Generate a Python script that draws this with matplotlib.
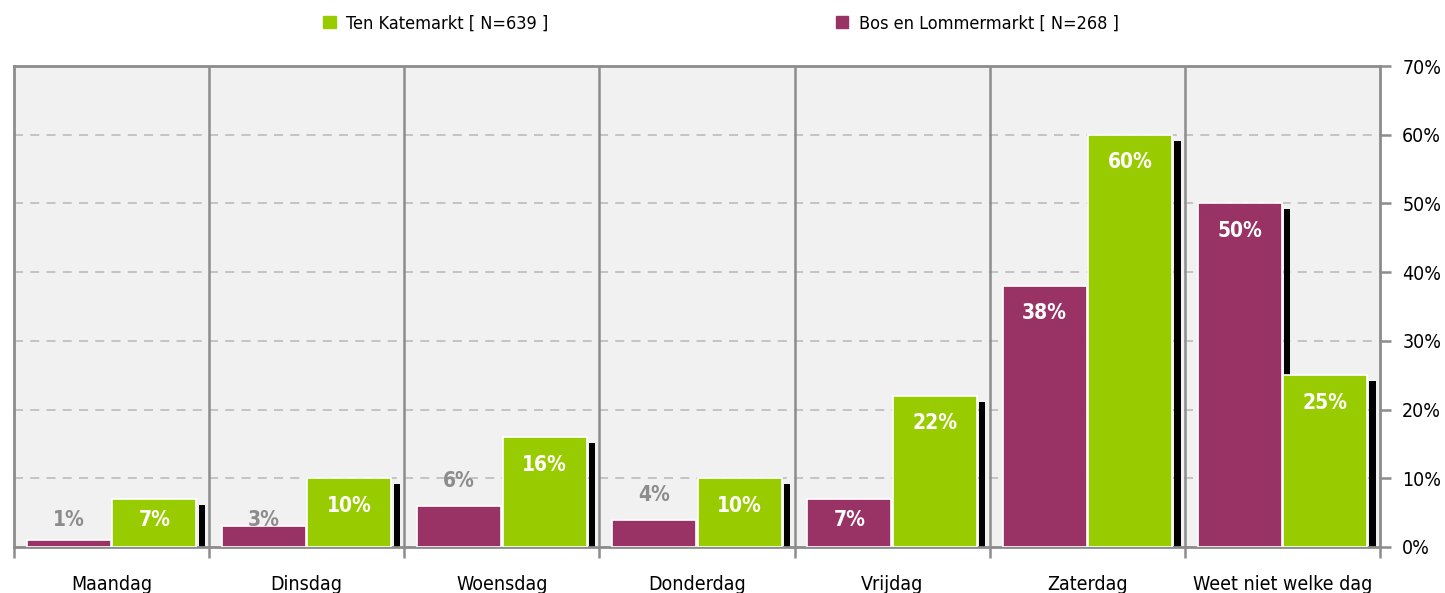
import numpy as np
import matplotlib.pyplot as plt
from matplotlib.patches import Patch

# data
days = ['Maandag', 'Dinsdag', 'Woensdag', 'Donderdag', 'Vrijdag', 'Zaterdag', 'Weet niet welke dag']
bos = [1, 3, 6, 4, 7, 38, 50]
ten = [7, 10, 16, 10, 22, 60, 25]
series_names = ['Ten Katemarkt [ N=639 ]', 'Bos en Lommermarkt [ N=268 ]']
yticks = [0, 10, 20, 30, 40, 50, 60, 70]

green = '#99CC00'
purple = '#993366'
grid_gray = '#8C8C8C'

plt.rcParams['font.family'] = ['DejaVu Sans']
plt.rcParams['font.stretch'] = 'condensed'

fig = plt.figure(figsize=(14.45, 5.93), dpi=100)
ax = fig.add_axes([14/1445, 1 - 547/593, (1380 - 14)/1445, (547 - 66)/593])
ax.set_facecolor('#F1F1F1')

x = np.arange(len(days))
w = 0.43
xb = x - w/2 - 0.004
xt = x + w/2 + 0.004

# shadows (behind bars)
for xs, vals in ((xb, bos), (xt, ten)):
    vals = np.array(vals, dtype=float)
    ax.bar(xs + w/2 + 0.012, vals - 0.85, width=0.032, align='edge',
           color='black', zorder=2)

ax.bar(xb, bos, width=w, color=purple, edgecolor='white', linewidth=1.2, zorder=3)
ax.bar(xt, ten, width=w, color=green, edgecolor='white', linewidth=1.2, zorder=3)

# value labels
for xs, vals in ((xb, bos), (xt, ten)):
    for xi, v in zip(xs, vals):
        if v >= 7:
            ax.text(xi, max(v - 4, 3.9), f'{v}%', ha='center', va='center',
                    color='white', fontsize=15, fontweight='bold', zorder=5)
        else:
            yy = v + 3.6 if v >= 4 else 4
            ax.text(xi, yy, f'{v}%', ha='center', va='center',
                    color='#8C8C8C', fontsize=15, fontweight='bold', zorder=5)

ax.set_xlim(-0.5, len(days) - 0.5)
ax.set_ylim(0, 70)

# group separators
for b in np.arange(0.5, len(days) - 0.5):
    ax.axvline(b, color=grid_gray, lw=1.8, zorder=1)

ax.set_yticks(yticks)
ax.set_yticklabels([f'{t}%' for t in yticks], fontsize=14)
ax.yaxis.tick_right()
ax.yaxis.grid(True, linestyle=(0, (5, 4)), color='#C0C0C0', lw=1.3, zorder=0)
ax.set_axisbelow(True)

ax.set_xticks(x)
ax.set_xticklabels(days, fontsize=14)
ax.set_xticks(np.arange(-0.5, len(days)), minor=True)
ax.tick_params(axis='x', which='major', length=0, pad=20)
ax.tick_params(axis='x', which='minor', length=8, width=1.8, color=grid_gray, direction='out')
ax.tick_params(axis='y', length=8, width=1.8, color=grid_gray, direction='out', pad=8)

for s in ax.spines.values():
    s.set_color(grid_gray)
    s.set_linewidth(2)

handles = [Patch(color=green), Patch(color=purple)]
fig.legend(handles, series_names, loc='upper center', bbox_to_anchor=(0.499, 1.003),
           ncol=2, frameon=False, fontsize=13, columnspacing=15.9,
           handlelength=0.7, handleheight=0.7, handletextpad=0.6)

fig.savefig('out.png', dpi=100)
